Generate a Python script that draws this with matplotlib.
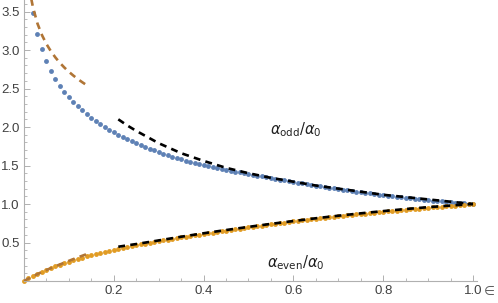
import numpy as np
import matplotlib
matplotlib.use("Agg")
import matplotlib.pyplot as plt

# --- data ---

# sample grid of the dotted curves (steps of 0.01)
eps_odd = np.arange(2, 101) / 100
eps_even = np.arange(0, 101) / 100

alpha_odd = [
    3.484, 3.206, 3.009, 2.857, 2.733, 2.629, 2.539, 2.460, 2.390, 2.326,
    2.268, 2.215, 2.166, 2.120, 2.078, 2.039, 2.001, 1.966, 1.933, 1.901,
    1.872, 1.843, 1.816, 1.790, 1.765, 1.741, 1.718, 1.696, 1.675, 1.655,
    1.635, 1.616, 1.598, 1.580, 1.563, 1.546, 1.532, 1.517, 1.504, 1.491,
    1.479, 1.467, 1.455, 1.444, 1.433, 1.422, 1.412, 1.402, 1.392, 1.381,
    1.369, 1.358, 1.348, 1.337, 1.327, 1.317, 1.307, 1.298, 1.288, 1.278,
    1.268, 1.258, 1.249, 1.239, 1.230, 1.221, 1.212, 1.203, 1.194, 1.186,
    1.177, 1.169, 1.161, 1.153, 1.145, 1.137, 1.129, 1.122, 1.114, 1.107,
    1.100, 1.093, 1.086, 1.079, 1.073, 1.067, 1.062, 1.056, 1.050, 1.045,
    1.040, 1.035, 1.029, 1.024, 1.019, 1.014, 1.010, 1.005, 1.000,
]

alpha_even = [
    0.000, 0.033, 0.063, 0.092, 0.120, 0.146, 0.170, 0.192, 0.213, 0.233,
    0.252, 0.270, 0.287, 0.303, 0.319, 0.334, 0.349, 0.363, 0.377, 0.390,
    0.403, 0.416, 0.428, 0.440, 0.452, 0.464, 0.475, 0.486, 0.497, 0.508,
    0.518, 0.528, 0.538, 0.548, 0.558, 0.567, 0.577, 0.586, 0.595, 0.604,
    0.613, 0.622, 0.630, 0.639, 0.647, 0.655, 0.664, 0.672, 0.680, 0.688,
    0.696, 0.704, 0.712, 0.720, 0.728, 0.736, 0.743, 0.751, 0.758, 0.766,
    0.773, 0.780, 0.787, 0.794, 0.800, 0.807, 0.814, 0.820, 0.827, 0.833,
    0.840, 0.846, 0.852, 0.858, 0.864, 0.870, 0.876, 0.881, 0.887, 0.893,
    0.898, 0.904, 0.909, 0.914, 0.919, 0.924, 0.930, 0.935, 0.940, 0.945,
    0.950, 0.955, 0.960, 0.965, 0.970, 0.975, 0.980, 0.985, 0.990, 0.995,
    1.000,
]

# large-eps approximation (black dashed)
eps_large = [0.21, 0.23, 0.25, 0.30, 0.35, 0.40, 0.45, 0.50, 0.55, 0.60,
             0.65, 0.70, 0.75, 0.80, 0.85, 0.90, 0.95, 1.00]
odd_large = [2.10, 2.02, 1.95, 1.79, 1.66, 1.56, 1.47, 1.40, 1.34, 1.29,
             1.24, 1.20, 1.16, 1.12, 1.09, 1.06, 1.03, 1.00]
even_large = [0.445, 0.463, 0.480, 0.527, 0.575, 0.620, 0.662, 0.703, 0.742, 0.779,
              0.815, 0.848, 0.879, 0.908, 0.935, 0.959, 0.980, 1.000]

# small-eps approximation (brown dashed)
eps_small_odd = [0.015, 0.02, 0.03, 0.04, 0.05, 0.06, 0.07, 0.08, 0.09, 0.10,
                 0.11, 0.12, 0.13, 0.14, 0.145]
odd_small = [3.70, 3.554, 3.344, 3.194, 3.078, 2.983, 2.903, 2.833, 2.772, 2.717,
             2.668, 2.622, 2.581, 2.542, 2.524]
eps_small_even = [0.0, 0.02, 0.04, 0.06, 0.08, 0.10, 0.12, 0.14, 0.145]
even_small = [0.0, 0.062, 0.118, 0.168, 0.215, 0.262, 0.307, 0.350, 0.360]

x_ticks = [0.2, 0.4, 0.6, 0.8, 1.0]
y_ticks = [0.5, 1.0, 1.5, 2.0, 2.5, 3.0, 3.5]

# --- plot ---
BLUE = "#5E81B5"
ORANGE = "#E19C24"
BROWN = "#B07536"
AXIS = "#b0b0b0"
TEXT = "#404040"

plt.rcParams["font.family"] = ["Liberation Sans", "DejaVu Sans"]

fig = plt.figure(figsize=(4.98, 3.03), dpi=100)
ax = fig.add_axes([0.0482, 0.0726, 0.9106, 0.9274])

ax.plot(eps_odd, alpha_odd, "o", color=BLUE, ms=3.5, mec="none", clip_on=False, zorder=2)
ax.plot(eps_even, alpha_even, "o", color=ORANGE, ms=3.5, mec="none", clip_on=False, zorder=2)

ax.plot(eps_large, odd_large, color="black", lw=1.9, dashes=(2.6, 2.0), zorder=3)
ax.plot(eps_large, even_large, color="black", lw=1.9, dashes=(2.6, 2.0), zorder=3)
ax.plot(eps_small_odd, odd_small, color=BROWN, lw=1.9, dashes=(2.6, 2.0), zorder=3)
ax.plot(eps_small_even, even_small, color=BROWN, lw=1.9, dashes=(2.6, 2.0), zorder=3)

ax.set_xlim(0, 1.01)
ax.set_ylim(0, 3.65)

for side in ["top", "right"]:
    ax.spines[side].set_visible(False)
for side in ["left", "bottom"]:
    ax.spines[side].set_color(AXIS)
    ax.spines[side].set_linewidth(0.8)

ax.set_xticks(x_ticks)
ax.set_xticklabels([f"{t:.1f}" for t in x_ticks])
ax.set_yticks(y_ticks)
ax.set_yticklabels([f"{t:.1f}" for t in y_ticks])
ax.set_xticks(np.arange(1, 21) * 0.05, minor=True)
ax.set_yticks(np.arange(1, 37) * 0.1, minor=True)

ax.tick_params(which="major", direction="in", length=4, width=0.7, color=AXIS,
               labelsize=9.5, labelcolor=TEXT, pad=3)
ax.tick_params(which="minor", direction="in", length=2, width=0.6, color=AXIS)

ax.text(0.605, 1.96, r"$\alpha_{\mathrm{odd}}/\alpha_0$", fontsize=10.5, color="#222222",
        ha="center", va="center")
ax.text(0.605, 0.24, r"$\alpha_{\mathrm{even}}/\alpha_0$", fontsize=10.5, color="#222222",
        ha="center", va="center")
ax.text(1.036, -0.05, "∈", fontsize=9, color="#606060", ha="center", va="top",
        family="DejaVu Sans", clip_on=False)

fig.savefig("out.png", dpi=100)
